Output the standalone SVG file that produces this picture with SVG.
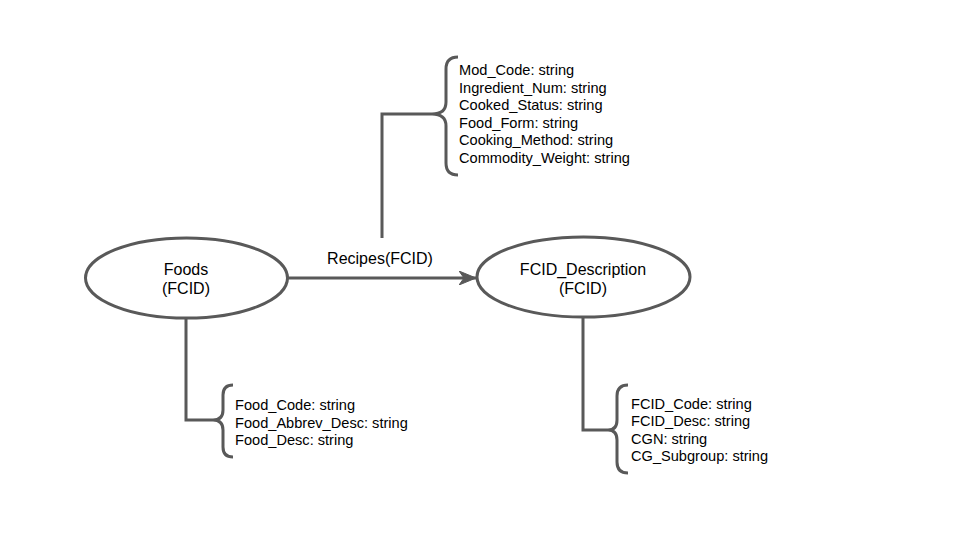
<svg xmlns="http://www.w3.org/2000/svg" width="960" height="540" viewBox="0 0 960 540">
<style>
.ln{fill:none;stroke:#595959;stroke-width:3}
.node{fill:#fff;stroke:#595959;stroke-width:3}
.lbl{font-family:"Liberation Sans",Arial,sans-serif;font-size:16px;fill:#000;text-anchor:middle}
.attr{font-family:"Liberation Sans",Arial,sans-serif;font-size:14.6px;fill:#000}
</style>
<defs>
<marker id="arr" viewBox="0 0 18 14" refX="17" refY="7" markerWidth="18" markerHeight="14" markerUnits="userSpaceOnUse" orient="auto">
<path d="M0,0 L17,7 L0,14 L5,7 z" fill="#595959" stroke="#595959" stroke-width="1" stroke-linejoin="round"/>
</marker>
</defs>
<rect width="960" height="540" fill="#fff"/>
<g id="connectors">
<path class="ln" d="M288,278 L476,278" marker-end="url(#arr)"/>
<text class="lbl" x="380" y="264">Recipes(FCID)</text>
<path class="ln" d="M382,238 L382,114 L432,114"/>
<path class="ln" d="M186,318 L186,420 L213,420"/>
<path class="ln" d="M583,317 L583,430 L608,430"/>
</g>
<g id="foods">
<ellipse class="node" cx="186.5" cy="278" rx="101" ry="40"/>
<text class="lbl" x="186" y="275">Foods</text>
<text class="lbl" x="186" y="294">(FCID)</text>
</g>
<g id="fcid_description">
<ellipse class="node" cx="583.5" cy="277" rx="106.5" ry="40"/>
<text class="lbl" x="583" y="275">FCID_Description</text>
<text class="lbl" x="583" y="294">(FCID)</text>
</g>
<g id="recipes_attrs">
<path class="ln" d="M458,57 Q446,57 446,69 L446,102 Q446,114 432,114 Q446,114 446,126 L446,163 Q446,175 458,175"/>
<text class="attr" x="459" y="75">Mod_Code: string</text>
<text class="attr" x="459" y="92.5">Ingredient_Num: string</text>
<text class="attr" x="459" y="110">Cooked_Status: string</text>
<text class="attr" x="459" y="127.5">Food_Form: string</text>
<text class="attr" x="459" y="145">Cooking_Method: string</text>
<text class="attr" x="459" y="162.5">Commodity_Weight: string</text>
</g>
<g id="foods_attrs">
<path class="ln" d="M233,385 Q223,385 223,395 L223,410 Q223,420 213,420 Q223,420 223,430 L223,447 Q223,457 233,457"/>
<text class="attr" x="235" y="410">Food_Code: string</text>
<text class="attr" x="235" y="427.5">Food_Abbrev_Desc: string</text>
<text class="attr" x="235" y="445">Food_Desc: string</text>
</g>
<g id="fcid_attrs">
<path class="ln" d="M628,385 Q617,385 617,396 L617,420 Q617,430 608,430 Q617,430 617,440 L617,462 Q617,473 628,473"/>
<text class="attr" x="631" y="408.5">FCID_Code: string</text>
<text class="attr" x="631" y="426">FCID_Desc: string</text>
<text class="attr" x="631" y="443.5">CGN: string</text>
<text class="attr" x="631" y="461">CG_Subgroup: string</text>
</g>
</svg>
